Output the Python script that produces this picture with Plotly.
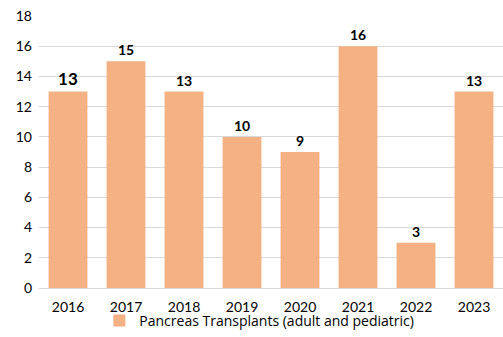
import plotly.graph_objects as go

years = ["2016", "2017", "2018", "2019", "2020", "2021", "2022", "2023"]
values = [13, 15, 13, 10, 9, 16, 3, 13]
label_sizes = [17, 14, 14, 14, 14, 14, 14, 14]
series_name = "Pancreas Transplants (adult and pediatric)"

fig = go.Figure()
fig.add_trace(go.Bar(
    x=years, y=values, name=series_name,
    marker=dict(color="#F4B183", line=dict(width=0)),
    text=[str(v) for v in values], textposition="outside",
    textfont=dict(family="Lato", size=label_sizes, color="#000000", weight="bold"),
    cliponaxis=False,
))
fig.update_layout(
    width=503, height=337,
    margin=dict(l=39, r=0, t=16, b=49),
    paper_bgcolor="white", plot_bgcolor="white",
    font=dict(family="Lato", size=14, color="#000000"),
    bargap=0.33,
    showlegend=True,
    legend=dict(orientation="h", x=0.13, xanchor="left", y=-0.18, yanchor="bottom",
                bgcolor="rgba(0,0,0,0)",
                font=dict(size=14, family="Open Sans"), itemsizing="constant",
                itemwidth=30, borderwidth=0, tracegroupgap=0),
    xaxis=dict(showgrid=False, showline=True, linecolor="#d9d9d9", ticks="",
               tickfont=dict(size=14), ticklabelstandoff=6),
    yaxis=dict(range=[0, 18], dtick=2, showgrid=True, gridcolor="#d9d9d9",
               zeroline=False, ticks="", tickfont=dict(size=14), ticklabelstandoff=6),
)
fig.write_html("out.html")
